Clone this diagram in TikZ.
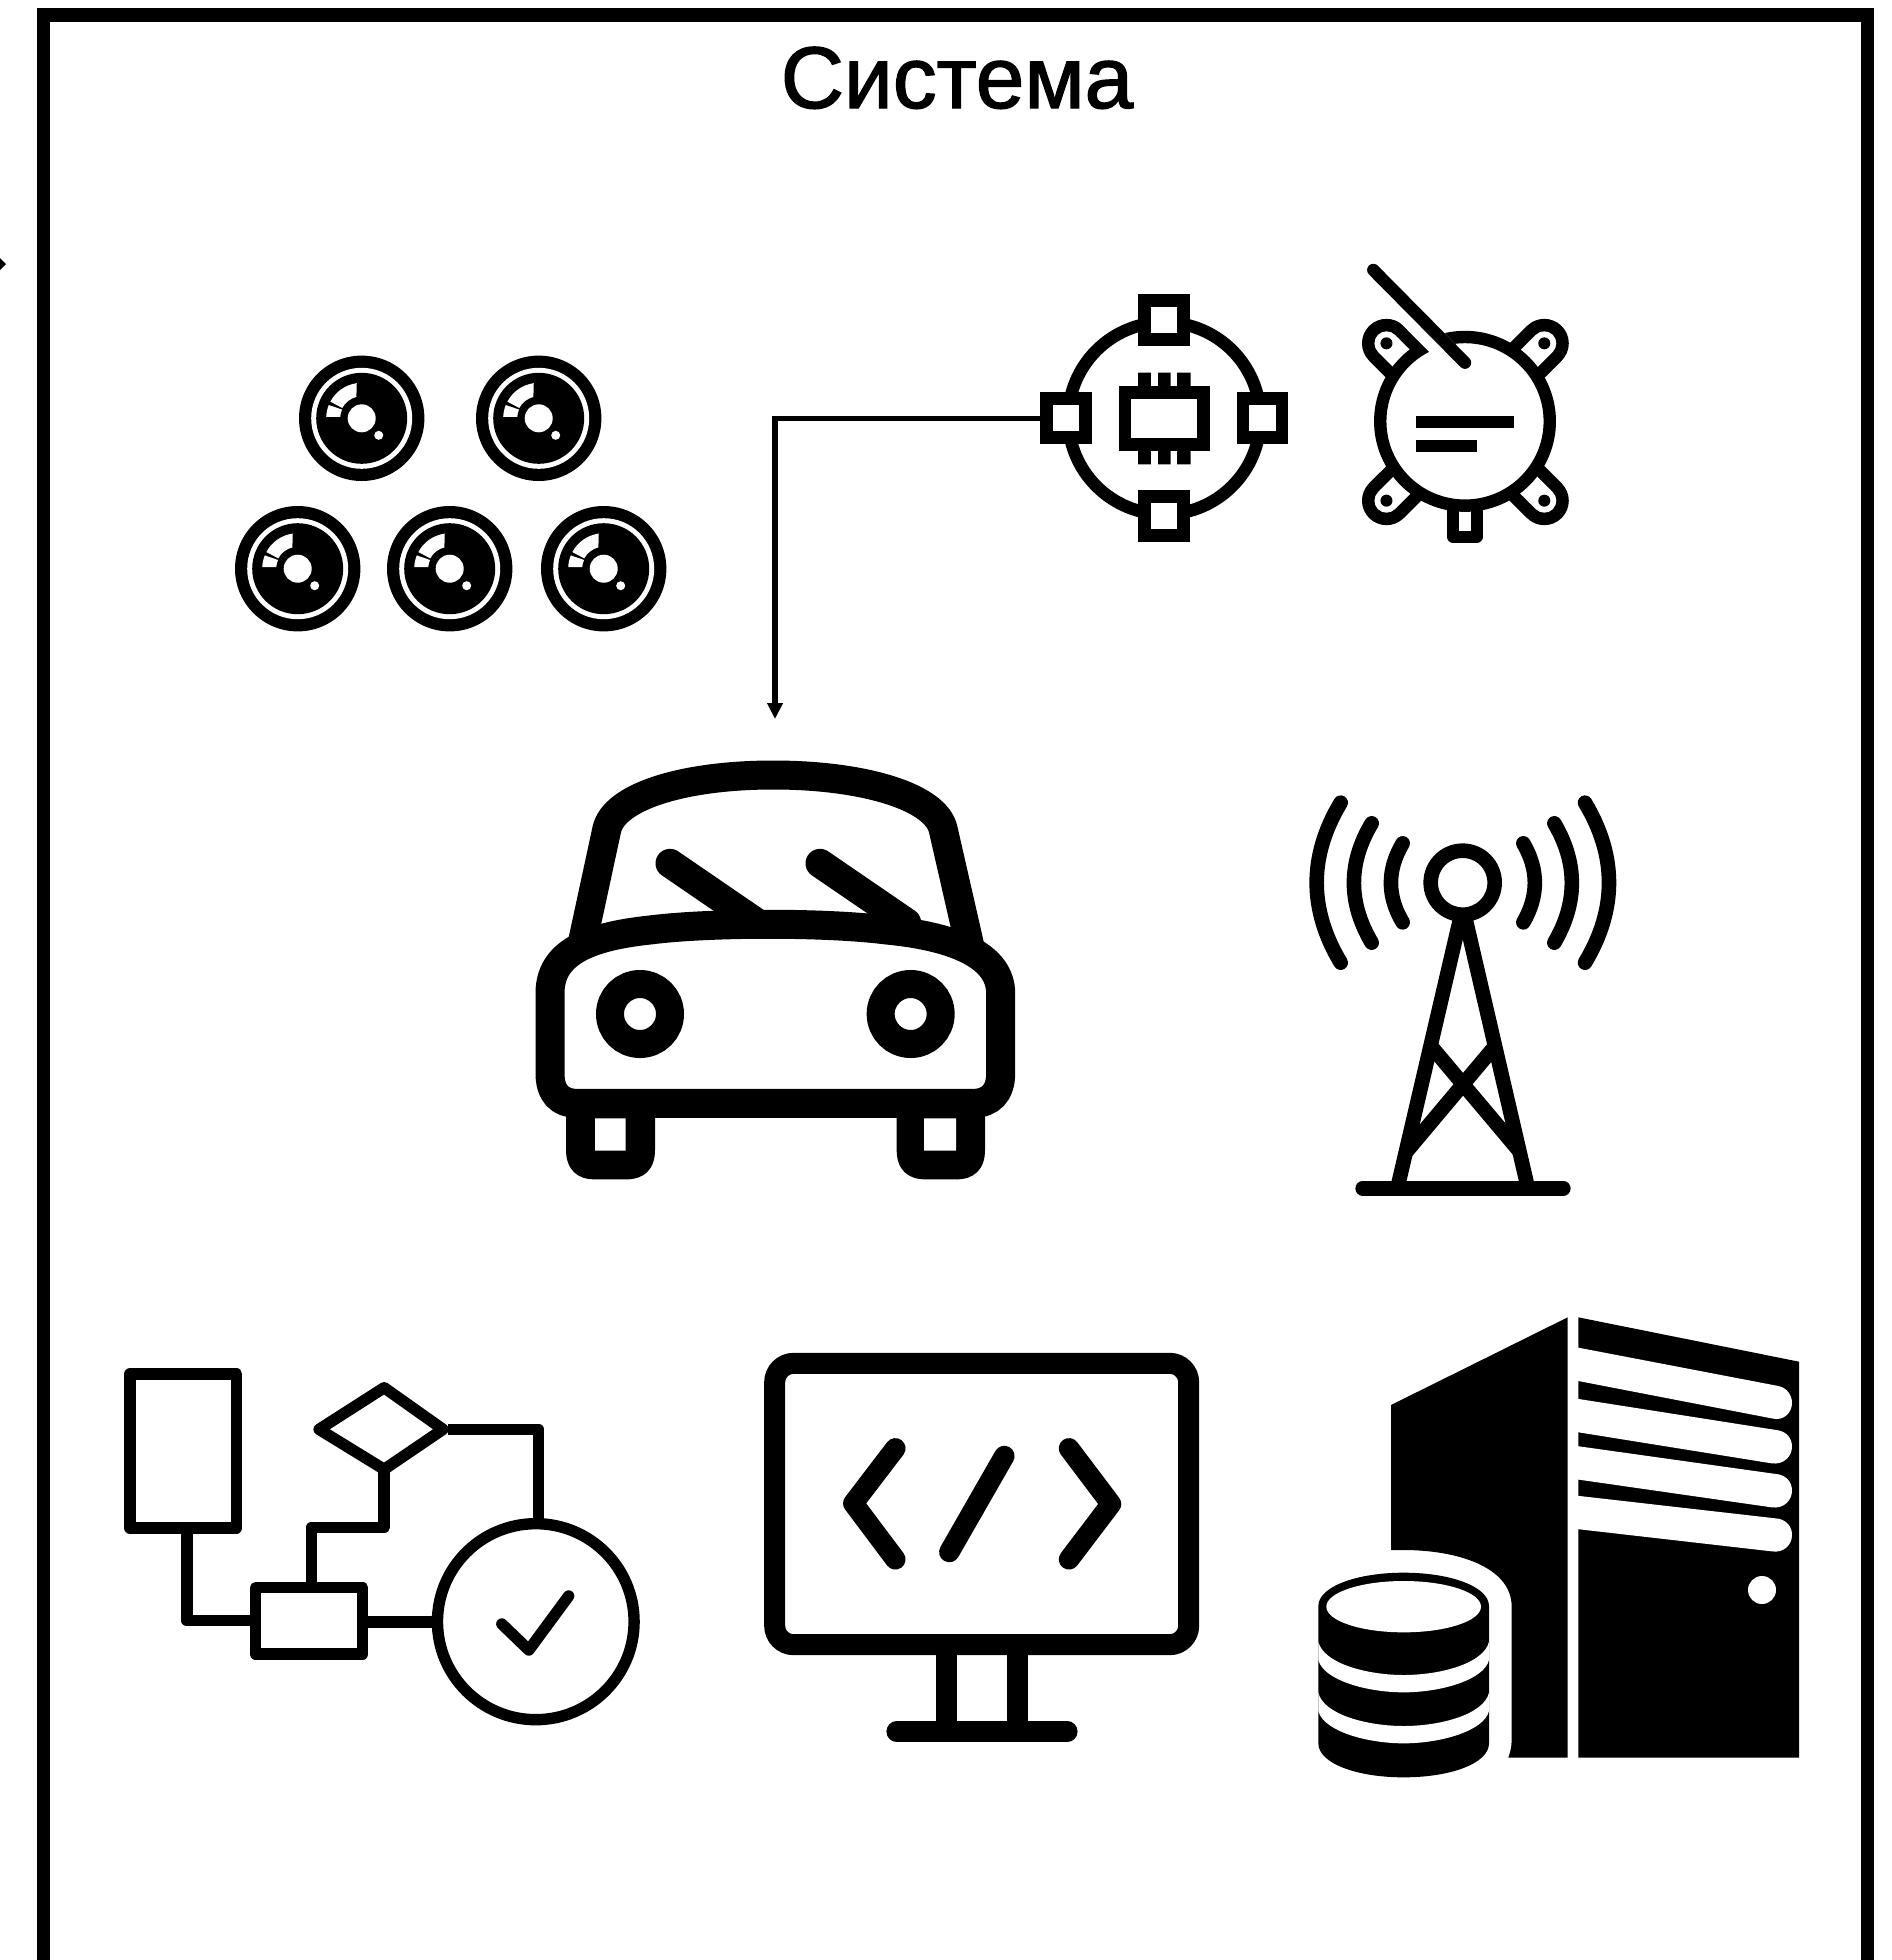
\documentclass[tikz,border=0pt]{standalone}
\usepackage{fontspec}
\setmainfont{Liberation Sans}
\newfontfamily\titlefont[FakeBold=1.6]{Liberation Sans}
\usetikzlibrary{arrows.meta}
\tikzset{
  frameline/.style={line width=13.3pt,draw=black},
  flowline/.style={line width=11.4pt,draw=black,line join=round},
  carline/.style={line width=29pt,draw=black},
  codeline/.style={line width=20.5pt,draw=black,line cap=round,line join=round},
  towerline/.style={line width=14.6pt,draw=black},
  chipbox/.style={draw=black,fill=white,line width=12.8pt,rectangle,inner sep=0pt,minimum width=39pt,minimum height=39pt},
  connector/.style={line width=5.4pt,draw=black,-{Triangle[length=16pt,width=15pt]}},
  solidblack/.style={fill=black,draw=none}
}
% camera lens, drawn in reference pixels about its centre
\newcommand{\lens}[2]{%
  \begin{scope}[shift={(#1,#2)}]
    \fill[black] (0,0) circle[radius=62.7];
    \fill[white] (0,0) circle[radius=50.5];
    \fill[black] (0,0) circle[radius=45.5];
    \fill[white] (0,0) circle[radius=14];
    \fill[white] (17,17) circle[radius=4.5];
    \fill[white] (-98:35.5) arc[start angle=-98,end angle=-152,radius=35.5] -- (-152:22) arc[start angle=-152,end angle=-104,radius=22] -- cycle;
    \fill[white] (-158:35.5) arc[start angle=-158,end angle=-177.5,radius=35.5] -- (-176:21.5) arc[start angle=-176,end angle=-156,radius=21.5] -- cycle;
  \end{scope}}
\begin{document}
\begin{tikzpicture}[x=1pt,y=-1pt,line cap=butt]
\useasboundingbox (0,0) rectangle (1891,1960);
\clip (0,0) rectangle (1891,1960);
\fill[white] (0,0) rectangle (1891,1960);

% frame, open past the lower edge of the picture
\draw[frameline] (43.4,15) rectangle (1867.8,2000);

% cut-off arrow head at the left edge
\fill[black] (6,264) -- (0,258) -- (0,270) -- cycle;

\node[font=\titlefont\fontsize{87.5}{90}\selectfont,anchor=base,inner sep=0pt] (title) at (957,108) {Система};

% lenses
\lens{361.7}{418.3}\lens{538.7}{418.3}
\lens{297.7}{568.7}\lens{449.7}{568.7}\lens{603.7}{568.7}

% chip ring
\draw[line width=12.5pt] (1164.3,418.3) circle[radius=96];
\node[chipbox] (chipTop) at (1164.3,320.3) {};
\node[chipbox] (chipBottom) at (1164.3,516) {};
\node[chipbox] (chipLeft) at (1066,418.3) {};
\node[chipbox] (chipRight) at (1262.4,418.3) {};
\begin{scope}[shift={(1020,250)},xscale=1/2.737,yscale=1/3]
  \fill[black] (323,368) rectangle (358,420) (378,368) rectangle (412,420) (430,368) rectangle (467,420);
  \fill[black] (323,590) rectangle (358,643) (378,590) rectangle (412,643) (430,590) rectangle (467,643);
  \draw[line width=12.8pt,fill=white] (287.5,427) rectangle (502.5,584);
\end{scope}

% sensor device
\begin{scope}[shift={(1020,250)},xscale=1/2.737,yscale=1/3]
  \foreach \hx/\hy/\ex/\ey in {1003/280/1150/441,1435/280/1288/441,1003/752/1150/591,1435/752/1288/591}{
    \draw[line width=49pt,line cap=round] (\hx,\hy) -- (\ex,\ey);
    \draw[line width=24pt,white,line cap=round] (\hx,\hy) -- (\ex,\ey);
  }
  \draw[line width=12pt,line join=round,fill=white] (1185,700) rectangle (1250,860);
  \draw[line width=12.4pt,fill=white] (1218,514) ellipse[x radius=232,y radius=253];
  \foreach \hx/\hy in {1003/280,1435/280,1003/752,1435/752}{
    \fill[black] (\hx,\hy) ellipse[x radius=16.5,y radius=18];
  }
  \draw[line width=24.2pt,white] (955.5,72) -- (1206.5,350);
  \draw[line width=12.4pt,line cap=round] (967,60) -- (1218,338);
  \fill[black] (1085,498) rectangle (1351,534);
  \fill[black] (1085,571) rectangle (1251,606);
\end{scope}

% car
\begin{scope}[shift={(510,740)},scale=1/3]
  \fill[black] (168,1090) -- (168,1230) .. controls (168,1290) and (205,1318) .. (250,1318) -- (350,1318) .. controls (400,1318) and (435,1290) .. (435,1230) -- (435,1090) -- cycle;
  \fill[black] (1160,1090) -- (1160,1230) .. controls (1160,1290) and (1195,1318) .. (1245,1318) -- (1340,1318) .. controls (1390,1318) and (1425,1290) .. (1425,1230) -- (1425,1090) -- cycle;
  \fill[white] (255,1135) rectangle (347,1232) (1242,1135) rectangle (1338,1232);
  \draw[carline] (212,630) -- (222,585) -- (290,270) .. controls (310,170) and (520,105) .. (790,105) .. controls (1060,105) and (1280,170) .. (1300,270) -- (1372,585) -- (1382,630);
  \draw[carline,line cap=round] (480,370) -- (740,548);
  \draw[carline,line cap=round] (930,370) -- (1190,548);
  \draw[carline,fill=white] (120,1000) -- (120,760) .. controls (120,640) and (230,590) .. (420,570) .. controls (600,547) and (950,547) .. (1130,570) .. controls (1340,590) and (1472,650) .. (1472,760) -- (1472,1000) .. controls (1472,1060) and (1440,1090) .. (1390,1090) -- (200,1090) .. controls (150,1090) and (120,1060) .. (120,1000) -- cycle;
  \draw[line width=28pt] (390,822) circle[radius=90];
  \draw[line width=28pt] (1202,822) circle[radius=90];
\end{scope}
\coordinate (carTop) at (775,719);

% connector from the chip to the car
\draw[connector] (chipLeft.west) -| (carTop);

% tower
\begin{scope}[shift={(1290,770)},scale=1/3]
  \draw[towerline,line cap=round] (152,98) .. controls (56,258) and (56,418) .. (152,578);
  \draw[towerline,line cap=round] (245,160) .. controls (174,279) and (174,398) .. (245,518);
  \draw[towerline,line cap=round] (338,220) .. controls (291,299) and (291,378) .. (338,457);
  \draw[towerline,line cap=round] (885,98) .. controls (981,258) and (981,418) .. (885,578);
  \draw[towerline,line cap=round] (793,160) .. controls (863,279) and (863,398) .. (793,518);
  \draw[towerline,line cap=round] (700,220) .. controls (746,299) and (746,378) .. (700,457);
  \draw[towerline] (322,1255) -- (512,440);
  \draw[towerline] (714,1255) -- (525,440);
  \draw[towerline] (420,825) -- (692,1148);
  \draw[towerline] (618,825) -- (345,1150);
  \draw[towerline,fill=white] (518,338) circle[radius=96];
  \draw[towerline,line cap=round] (218,1255) -- (820,1255);
\end{scope}

% flow chart
\begin{scope}[shift={(110,1350)},xscale=1/2.889,yscale=1/3]
  \draw[flowline] (222,534) |- (421,812);
  \draw[flowline] (582,713) |- (792,532) -- (792,355);
  \draw[flowline] (975,238) -| (1238,510);
  \draw[flowline] (745,816) -- (935,816);
  \draw[flowline] (58,72) rectangle (365,534);
  \draw[flowline] (421,713) rectangle (730,912);
  \draw[flowline] (604,238) -- (792,113) -- (962,238) -- (792,358) -- cycle;
  \draw[flowline] (1230,815) ellipse[x radius=284,y radius=294];
  \draw[flowline,line cap=round] (1132,822) -- (1210,900) -- (1325,738);
\end{scope}

% monitor
\begin{scope}[shift={(740,1330)},scale=1/3]
  \draw[codeline] (620,944) -- (620,1205);
  \draw[codeline] (832,944) -- (832,1205);
  \draw[codeline] (470,1205) -- (982,1205);
  \draw[line width=21pt,rounded corners=19pt] (104,100) rectangle (1346,944);
  \draw[codeline] (466,355) -- (340,520) -- (466,688);
  \draw[codeline] (987,355) -- (1113,522) -- (987,688);
  \draw[codeline] (793,378) -- (628,666);
\end{scope}

% server
\begin{scope}[shift={(1290,1300)},scale=1/3]
  \fill[solidblack] (303,315) -- (833,52) -- (833,1373) -- (655,1373) .. controls (665,1345) and (665,1330) .. (665,1310) -- (665,920) .. controls (665,800) and (500,750) .. (340,750) -- (303,750) -- cycle;
  \fill[solidblack] (865,52) -- (1527,185) -- (1527,1373) -- (865,1373) -- cycle;
  \fill[white] (860,142) -- (1465,258) .. controls (1490,263) and (1506,285) .. (1506,308) .. controls (1506,340) and (1480,362) .. (1450,356) -- (860,242) -- cycle;
  \fill[white] (860,296) -- (1465,391) .. controls (1490,396) and (1506,415) .. (1506,440) .. controls (1506,470) and (1480,495) .. (1445,490) -- (860,396) -- cycle;
  \fill[white] (860,438) -- (1465,523) .. controls (1490,528) and (1506,547) .. (1506,572) .. controls (1506,602) and (1480,627) .. (1445,622) -- (860,538) -- cycle;
  \fill[white] (860,587) -- (1465,656) .. controls (1490,661) and (1506,680) .. (1506,705) .. controls (1506,735) and (1480,760) .. (1445,754) -- (860,687) -- cycle;
  \fill[white] (1416,870) circle[radius=42];
  % database
  \fill[solidblack] (85,918) .. controls (85,860) and (200,818) .. (341,818) .. controls (482,818) and (597,860) .. (597,918) -- (597,1330) .. controls (597,1390) and (482,1432) .. (341,1432) .. controls (200,1432) and (85,1390) .. (85,1330) -- cycle;
  \fill[white] (341,920) ellipse[x radius=232,y radius=77];
  \fill[white] (85,1025) .. controls (100,1090) and (230,1125) .. (341,1125) .. controls (452,1125) and (582,1090) .. (597,1025) -- (597,1080) .. controls (582,1140) and (452,1177) .. (341,1177) .. controls (230,1177) and (100,1140) .. (85,1080) -- cycle;
  \fill[white] (85,1178) .. controls (100,1243) and (230,1278) .. (341,1278) .. controls (452,1278) and (582,1243) .. (597,1178) -- (597,1233) .. controls (582,1293) and (452,1330) .. (341,1330) .. controls (230,1330) and (100,1293) .. (85,1233) -- cycle;
\end{scope}
\end{tikzpicture}
\end{document}
